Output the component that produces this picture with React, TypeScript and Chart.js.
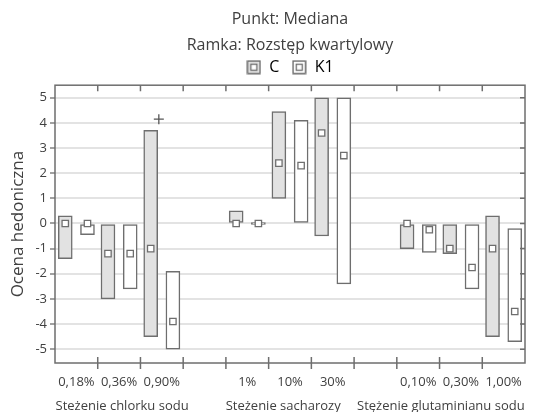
import React, { useEffect, useRef } from "react";
import { Chart, registerables } from "chart.js";

Chart.register(...registerables);

// ---- data ----
const categories = ["0,18%", "0,36%", "0,90%", "", "1%", "10%", "30%", "", "0,10%", "0,30%", "1,00%"];
const cLow: (number | null)[] = [-1.4, -3.0, -4.5, null, 0, 1.0, -0.5, null, -1.0, -1.2, -4.5];
const cHigh: (number | null)[] = [0.3, 0, 3.7, null, 0.5, 4.45, 5.0, null, 0, 0, 0.3];
const cMed: (number | null)[] = [0, -1.2, -1.0, null, 0, 2.4, 3.6, null, 0, -1.0, -1.0];
const k1Low: (number | null)[] = [-0.45, -2.6, -5.0, null, 0, 0, -2.4, null, -1.15, -2.6, -4.7];
const k1High: (number | null)[] = [0, 0, -1.9, null, 0, 4.1, 5.0, null, 0, 0, -0.2];
const k1Med: (number | null)[] = [0, -1.2, -3.9, null, 0, 2.3, 2.7, null, -0.25, -1.75, -3.5];
const outlierCategory = [2];
const outlierValue = [4.15];
const yTicks = [-5, -4, -3, -2, -1, 0, 1, 2, 3, 4, 5];
const groupLabels = ["Steżenie chlorku sodu", "Steżenie sacharozy", "Stężenie glutaminianu sodu"];
const groupAnchors = [1.57, 5.34, 9.03];
const titleLines = ["Punkt: Mediana", "Ramka: Rozstęp kwartylowy"];
const seriesNames = ["C", "K1"];

// ---- styling ----
const FONT = "'Open Sans', 'Noto Sans', sans-serif";
const TEXT = "#404040";
const EDGE = "#6e6e6e";
const FILL_C = "#e2e2e2";
const FILL_K1 = "#ffffff";
const C_OFF = 0.24;
const K1_OFF = 0.76;
const OUT_OFF = 0.43;

function legendIcon(fill: string) {
  const cv = document.createElement("canvas");
  cv.width = 15;
  cv.height = 15;
  const c = cv.getContext("2d")!;
  c.fillStyle = fill;
  c.fillRect(1, 1, 13, 13);
  c.strokeStyle = EDGE;
  c.lineWidth = 1.5;
  c.strokeRect(1.25, 1.25, 12.5, 12.5);
  c.fillStyle = "#ffffff";
  c.fillRect(4.5, 4.5, 6, 6);
  c.lineWidth = 1.3;
  c.strokeRect(4.5, 4.5, 6, 6);
  return cv;
}

const framePlugin = {
  id: "frame",
  afterDatasetsDraw(chart: any) {
    const { ctx, chartArea: a, scales } = chart;
    const x = scales.x;
    const y = scales.y;
    ctx.save();
    ctx.strokeStyle = EDGE;
    ctx.lineWidth = 1.5;
    ctx.strokeRect(a.left, a.top, a.right - a.left, a.bottom - a.top);
    ctx.beginPath();
    for (let i = 1; i < categories.length; i++) {
      const px = x.getPixelForValue(i);
      ctx.moveTo(px, a.top);
      ctx.lineTo(px, a.top + 6);
      ctx.moveTo(px, a.bottom - 6);
      ctx.lineTo(px, a.bottom + 6);
    }
    for (const v of yTicks) {
      const py = y.getPixelForValue(v);
      ctx.moveTo(a.right, py);
      ctx.lineTo(a.right - 5, py);
    }
    ctx.stroke();
    ctx.restore();
  },
};

export default function App() {
  const ref = useRef<HTMLCanvasElement | null>(null);

  useEffect(() => {
    if (!ref.current) return;
    const idx = categories.map((_, i) => i);
    const barData = (lo: (number | null)[], hi: (number | null)[], off: number) =>
      idx.filter((i) => lo[i] !== null && hi[i] !== null).map((i) => ({ x: i + off, y: [lo[i], hi[i]] }));
    const medData = (m: (number | null)[], off: number) =>
      idx.filter((i) => m[i] !== null).map((i) => ({ x: i + off, y: m[i] }));

    const iconC = legendIcon(FILL_C);
    const iconK = legendIcon(FILL_K1);

    const barStyle = {
      borderColor: EDGE,
      borderWidth: 1.5,
      borderSkipped: false,
      grouped: false,
      barThickness: 14,
      minBarLength: 2,
      order: 5,
    };
    const medStyle = {
      type: "scatter",
      pointStyle: "rect",
      pointRadius: 4.5,
      backgroundColor: "#ffffff",
      borderColor: EDGE,
      borderWidth: 1.3,
      order: 1,
    };

    const chart = new Chart(ref.current, {
      type: "bar",
      data: {
        datasets: [
          { label: seriesNames[0], data: barData(cLow, cHigh, C_OFF) as any, backgroundColor: FILL_C, ...barStyle } as any,
          { label: seriesNames[1], data: barData(k1Low, k1High, K1_OFF) as any, backgroundColor: FILL_K1, ...barStyle } as any,
          { label: "medC", data: medData(cMed, C_OFF) as any, ...medStyle } as any,
          { label: "medK1", data: medData(k1Med, K1_OFF) as any, ...medStyle } as any,
          {
            type: "scatter",
            label: "outlier",
            data: outlierCategory.map((c, k) => ({ x: c + OUT_OFF, y: outlierValue[k] })) as any,
            pointStyle: "cross",
            pointRadius: 5,
            borderColor: "#555555",
            borderWidth: 1.3,
            order: 0,
          } as any,
        ],
      },
      options: {
        animation: false,
        responsive: true,
        maintainAspectRatio: false,
        layout: { padding: { left: 0, right: 17, top: 0, bottom: 0 } },
        plugins: {
          tooltip: { enabled: false },
          title: {
            display: true,
            text: titleLines,
            fullSize: false,
            color: TEXT,
            font: { family: FONT, size: 16, weight: "normal", lineHeight: 1.6 },
            padding: { top: 7, bottom: -3 },
          },
          legend: {
            display: true,
            fullSize: false,
            labels: {
              color: TEXT,
              font: { family: FONT, size: 16 },
              usePointStyle: true,
              boxWidth: 15,
              boxHeight: 15,
              padding: 4,
              generateLabels: () => [
                { text: seriesNames[0] + "  ", pointStyle: iconC, fillStyle: FILL_C, strokeStyle: EDGE, lineWidth: 0, hidden: false, datasetIndex: 0 },
                { text: seriesNames[1], pointStyle: iconK, fillStyle: FILL_K1, strokeStyle: EDGE, lineWidth: 0, hidden: false, datasetIndex: 1 },
              ] as any,
            },
          },
        },
        scales: {
          x: {
            type: "linear",
            min: 0,
            max: categories.length,
            offset: false,
            position: "bottom",
            afterBuildTicks: (s: any) => {
              s.ticks = categories.map((_, i) => ({ value: i + 0.5 }));
            },
            afterFit: (s: any) => {
              s.height = 30;
              s.paddingLeft = 0;
              s.paddingRight = 0;
            },
            ticks: {
              autoSkip: false,
              maxRotation: 0,
              minRotation: 0,
              padding: 11,
              color: TEXT,
              font: { family: FONT, size: 13 },
              callback: (v: any) => categories[Math.round(Number(v) - 0.5)] ?? "",
            },
            grid: { display: false, drawTicks: false, offset: false },
            border: { display: false },
          },
          xg: {
            type: "linear",
            min: 0,
            max: categories.length,
            offset: false,
            position: "bottom",
            afterBuildTicks: (s: any) => {
              s.ticks = groupAnchors.map((v) => ({ value: v }));
            },
            afterFit: (s: any) => {
              s.height = 19;
              s.paddingLeft = 0;
              s.paddingRight = 0;
            },
            ticks: {
              autoSkip: false,
              maxRotation: 0,
              minRotation: 0,
              padding: 5,
              color: TEXT,
              font: { family: FONT, size: 13 },
              callback: (_v: any, i: number) => groupLabels[i],
            },
            grid: { display: false, drawTicks: false, offset: false },
            border: { display: false },
          },
          y: {
            type: "linear",
            min: -5.55,
            max: 5.5,
            afterBuildTicks: (s: any) => {
              s.ticks = yTicks.map((v) => ({ value: v }));
            },
            afterFit: (s: any) => {
              s.width = 55;
              s.paddingTop = 0;
              s.paddingBottom = 0;
            },
            ticks: {
              color: TEXT,
              padding: 3,
              font: { family: FONT, size: 13 },
              callback: (v: any) => String(v),
            },
            grid: { color: "#e3e3e3", lineWidth: 2, tickColor: EDGE, tickLength: 5, tickWidth: 1.3 },
            border: { display: false },
            title: {
              display: true,
              text: "Ocena hedoniczna",
              color: TEXT,
              font: { family: FONT, size: 17 },
              padding: { top: 8, bottom: 0 },
            },
          },
        },
      } as any,
      plugins: [framePlugin],
    });
    return () => chart.destroy();
  }, []);

  return (
    <div style={{ position: "absolute", left: 0, top: 0, width: 542, height: 412 }}>
      <canvas ref={ref} />
    </div>
  );
}
